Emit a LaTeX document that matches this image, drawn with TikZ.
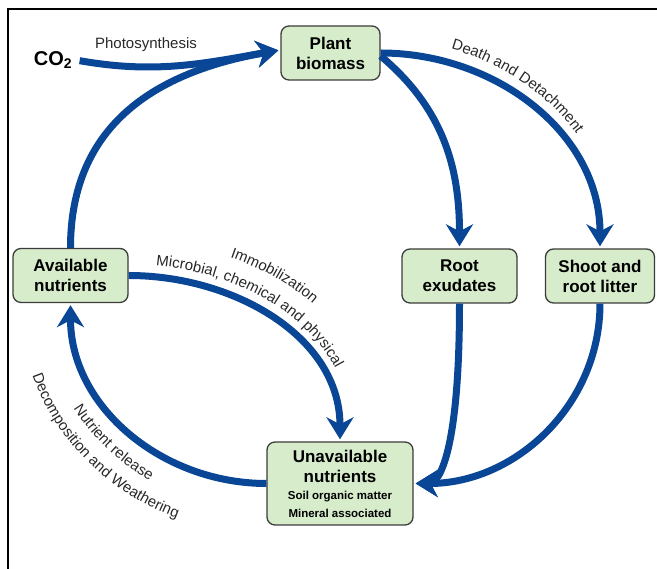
\documentclass[tikz,border=0pt]{standalone}
\usepackage{fontspec}
\setmainfont{Liberation Sans}
\usetikzlibrary{arrows.meta,decorations.text}

\definecolor{flowblue}{RGB}{10,70,150}
\definecolor{boxgreen}{RGB}{214,236,203}
\definecolor{boxline}{RGB}{60,60,60}
\definecolor{labelgray}{RGB}{40,40,40}

\newcommand{\boxfont}{\bfseries\fontsize{17}{20}\selectfont}
\newcommand{\lblfont}{\fontsize{15}{17}\selectfont}

\tikzset{
  nutbox/.style={draw=boxline, fill=boxgreen, line width=1.3pt, rounded corners=8pt,
    align=center, font=\boxfont, minimum height=54pt, inner sep=2pt},
  flow/.style={draw=flowblue, line width=7pt, -{Stealth[length=22pt,width=27pt,inset=7pt]}, shorten >=2pt},
  flowtext/.style={decorate, decoration={text along path, text color=labelgray, text align={left indent=#1}}},
}

\begin{document}
\begin{tikzpicture}[x=1pt, y=1pt]
   \useasboundingbox (0,0) rectangle (657,569);
   \draw [line width=2.5pt] (7,560) -- (657,560);
   \draw [line width=2.5pt] (8,561) -- (8,0);

   \node [nutbox, minimum width=99pt] (plant) at (330.5,516) {Plant\\biomass};
   \node [nutbox, minimum width=115pt] (avail) at (70.5,293.5) {Available\\nutrients};
   \node [nutbox, minimum width=115pt] (exud) at (459.5,293) {Root\\exudates};
   \node [nutbox, minimum width=109pt] (litter) at (600,293) {Shoot and\\root litter};
   \node [nutbox, minimum width=146pt, minimum height=83pt] (unavail) at (340,85.5)
      {Unavailable\\nutrients\\[-3pt]{\fontsize{11.5}{13}\selectfont Soil organic matter}\\[-2pt]{\fontsize{11.5}{13}\selectfont Mineral associated}};
   \node [font=\bfseries\fontsize{20}{22}\selectfont] (co2) at (53,509) {CO\textsubscript{2}};
   \node [font=\lblfont, text=labelgray] (photo) at (146,524) {Photosynthesis};

   \draw [flow, shorten <=4pt] (co2.east) to[out=-10, in=190] ([yshift=3pt]plant.west);
   \draw [flow] (avail.north) to[out=90, in=190, looseness=1.1] ([yshift=3pt]plant.west);
   \draw [flow] ([yshift=-3pt]plant.east) to[out=-40, in=90] (exud.north);
   \draw [flow] (plant.east) to[out=0, in=90] (litter.north);
   \draw [flow] (avail.east) to[out=0, in=90] (unavail.north);
   \draw [flow] (unavail.west) to[out=180, in=-90] (avail.south);
   \draw [flow] (exud.south) .. controls +(0,-150) and +(25,0) .. (unavail.east);
   \draw [flow] (litter.south) to[out=-90, in=0] (unavail.east);

   \path [flowtext=72pt, decoration={text={|\lblfont|Death and Detachment}}] (380,530) to[out=0, in=90] (614,320);
   \path [flowtext=28pt, decoration={text={|\lblfont|Microbial, chemical and physical}}] (128,305) to[out=0, in=90] (354,127);
   \path [flowtext=104pt, decoration={text={|\lblfont|Immobilization}}] (128,329) to[out=0, in=90] (378,127);
   \path [flowtext=112pt, decoration={text={|\lblfont|Nutrient release}}] (43,267) to[out=-90, in=180] (267,58);
   \path [flowtext=75pt, decoration={text={|\lblfont|Decomposition and Weathering}}] (20,267) to[out=-90, in=180] (267,35);
\end{tikzpicture}
\end{document}
